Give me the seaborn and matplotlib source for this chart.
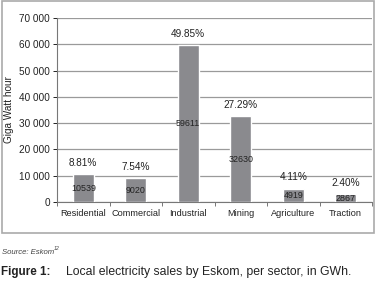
import matplotlib
matplotlib.use("Agg")
import matplotlib.pyplot as plt
import seaborn as sns
import pandas as pd
from matplotlib.patches import Rectangle
from matplotlib.ticker import FuncFormatter

sectors = ["Residential", "Commercial", "Industrial", "Mining", "Agriculture", "Traction"]
sales_gwh = [10539, 9020, 59611, 32630, 4919, 2867]
shares = ["8.81%", "7.54%", "49.85%", "27.29%", "4.11%", "2.40%"]
yticks = [0, 10000, 20000, 30000, 40000, 50000, 60000, 70000]

sns.set_theme(style="white")
plt.rcParams['font.family'] = ['Liberation Sans', 'DejaVu Sans']

df = pd.DataFrame({"sector": sectors, "gwh": sales_gwh})

fig = plt.figure(figsize=(3.86, 2.84), dpi=100)
ax = fig.add_axes([57/386, 1 - 202/284, (372 - 57)/386, (202 - 18)/284])

sns.barplot(data=df, x="sector", y="gwh", color="#8a8a8e", saturation=1,
            width=0.4, ax=ax, zorder=3)

ax.set_ylim(0, 70000)
ax.set_xlim(-0.5, 5.5)
ax.set_yticks(yticks)
ax.yaxis.set_major_formatter(FuncFormatter(lambda v, p: f"{int(v):,}".replace(",", " ")))
ax.grid(axis="y", color="#9a9a9a", linewidth=0.9, zorder=0)
ax.set_axisbelow(True)
for s in ["top", "right"]:
    ax.spines[s].set_visible(False)
ax.spines["left"].set_color("#777777")
ax.spines["bottom"].set_color("#777777")
ax.spines["left"].set_linewidth(0.8)
ax.spines["bottom"].set_linewidth(0.8)

ax.set_xlabel("")
ax.set_ylabel("Giga Watt hour", fontsize=7.2, color="#222222", labelpad=4)
ax.tick_params(axis="y", labelsize=7.2, colors="#222222", length=3, left=True, width=0.7, pad=2)
ax.tick_params(axis="x", labelsize=6.6, colors="#222222", length=0, pad=5)
ax.set_xticks([i - 0.5 for i in range(7)], minor=True)
ax.tick_params(axis="x", which="minor", length=3, bottom=True, width=0.7, color="#777777")

for i, (v, s) in enumerate(zip(sales_gwh, shares)):
    ax.text(i, v + 2500, s, ha="center", va="bottom", fontsize=7.2, color="#222222")
    ax.text(i, v / 2, str(v), ha="center", va="center", fontsize=6.4, color="#222222", zorder=4)

fig.patches.append(Rectangle((2/386, 1 - 233/284), (374 - 2)/386, (233 - 1)/284,
                             transform=fig.transFigure, fill=False,
                             edgecolor="#aaaaaa", linewidth=1.2))

fig.text(2/386, 1 - 252/284, "Source: Eskom", fontsize=5.6, style="italic",
         color="#444444", va="center")
fig.text(53.5/386, 1 - 248.5/284, "12", fontsize=3.8, style="italic", color="#444444", va="center")
fig.text(1/386, 1 - 272/284, "Figure 1:", fontsize=8.4, weight="bold", color="#222222", va="center")
fig.text(66/386, 1 - 272/284, "Local electricity sales by Eskom, per sector, in GWh.",
         fontsize=8.8, color="#222222", va="center")

fig.savefig("out.png", dpi=100)
